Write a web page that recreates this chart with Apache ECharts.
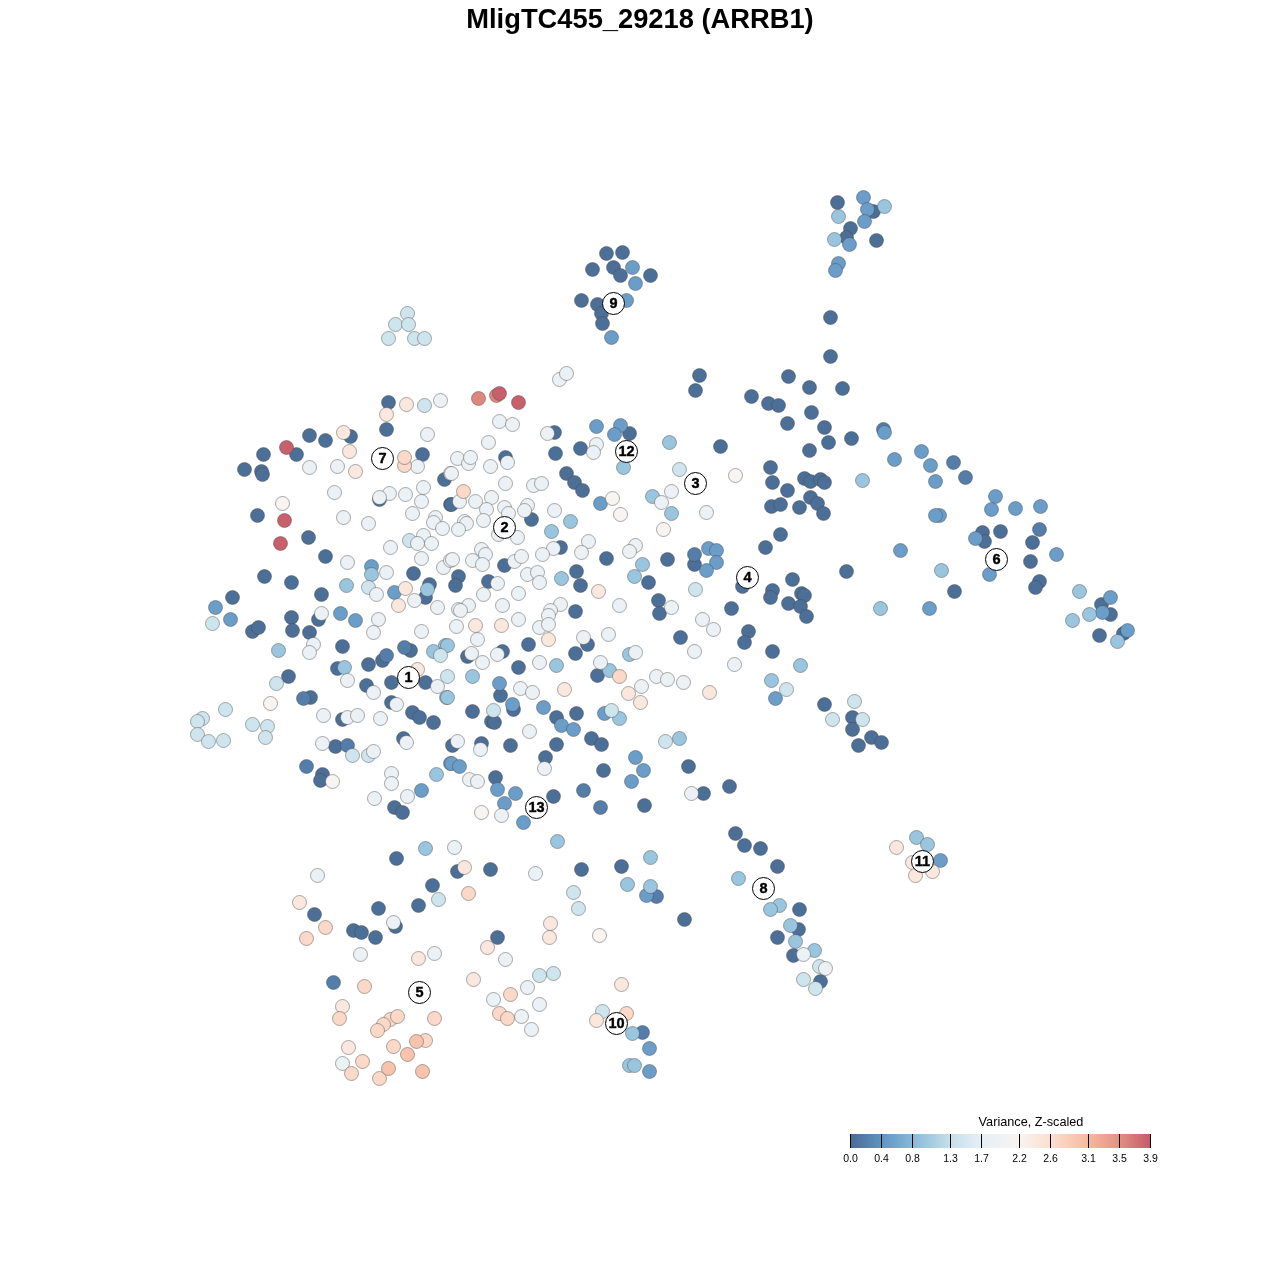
<!DOCTYPE html>
<html><head><meta charset="utf-8">
<style>html,body{margin:0;padding:0;background:#fff}#c{width:1280px;height:1280px}</style>
<script src="https://cdn.jsdelivr.net/npm/echarts@6/dist/echarts.min.js"></script>
</head><body><div id="c"></div>
<script>
const titleText = 'MligTC455_29218 (ARRB1)';
const legendTitle = 'Variance, Z-scaled';
const tickValues = ['0.0','0.4','0.8','1.3','1.7','2.2','2.6','3.1','3.5','3.9'];
const paletteStops = ['#4a6a93','#5f93c2','#86b9d8','#c3dfea','#e6eff6','#f8f4f2','#fcdfd0','#f6b9a0','#e39283','#c45a69'];

// point groups: [x, y] on the embedding scale, grouped by variance value
const darkPts = [[837,202],[873,211],[850,228],[846,237],[876,240],
[606,253],[622,252],[592,269],[613,267],[620,275],[650,275],[581,300],[597,304],[601,313],[602,323],
[830,317],[830,356],[699,375],[695,390],[788,376],[809,387],[842,388],[751,396],[768,403],[778,405],[811,412],[787,423],[824,427],[828,442],[851,438],[809,450],[720,446],[770,467],[772,482],[787,490],[804,478],[810,481],[820,479],[824,482],[810,497],[771,506],[780,504],[799,507],[817,503],[823,513],[780,534],[765,547],[846,571],[792,579],[772,590],[770,597],[788,603],[801,593],[804,595],[800,606],[806,616],[731,608],[748,631],[744,642],[772,651],[824,704],[852,717],[852,729],[871,737],[881,742],[858,745],[742,586],
[982,532],[1000,531],[984,541],[1032,542],[1030,561],[1039,581],[1035,587],[954,591],[1101,604],[1110,614],[1099,635],[1123,633],
[388,402],[386,429],[309,435],[325,440],[350,436],[296,454],[263,454],[244,469],[261,471],[262,474],[422,454],[257,515],[308,537],[325,556],[264,576],[291,582],[321,594],[232,597],[413,573],[429,584],[425,597],[444,479],[450,504],[379,499],
[554,432],[629,433],[555,453],[580,448],[505,457],[566,473],[574,482],[582,490],[451,504],[531,519],[560,547],[606,558],[667,559],[694,564],[504,565],[458,576],[455,585],[488,581],[576,571],[580,585],[648,582],[658,600],[659,613],[575,611],
[291,617],[292,630],[309,632],[252,631],[258,627],[318,619],[342,646],[368,664],[382,660],[410,650],[337,668],[288,676],[366,685],[391,682],[425,682],[391,702],[412,712],[419,717],[433,722],[310,697],[342,719],[403,738],[335,746],[322,774],[320,780],[394,807],[402,812],
[680,637],[528,644],[502,651],[467,656],[587,644],[575,653],[518,667],[597,675],[500,695],[472,711],[513,709],[491,721],[494,722],[556,717],[576,713],[591,738],[601,744],[510,745],[556,744],[452,745],[481,743],[545,757],[603,770],[688,766],[495,777],[553,796],[644,805],[703,793],[729,786],
[396,858],[432,885],[490,869],[457,871],[378,908],[418,905],[314,914],[395,926],[353,930],[361,932],[375,937],[497,937],[581,869],[621,866],[684,919],
[735,833],[744,845],[760,848],[777,866],[799,909],[798,929],[777,937],[793,955],[820,981]];
const slatePts = [[953,462],[965,477],[1039,529],[386,655],[404,647],[303,698],[306,766],[347,745],[583,790],[600,807],[333,982],[642,1032],[656,896],[694,554],[883,429]];
const bluePts = [[863,197],[867,209],[864,221],[849,244],[838,263],[835,270],[632,267],[635,283],[626,300],[611,337],
[884,432],[894,459],[921,451],[930,465],[935,481],[995,496],[991,509],[1015,508],[1040,506],[939,515],[935,515],[975,538],[1056,554],[989,574],[900,550],[929,608],[1110,597],[1102,612],[1127,630],
[708,548],[716,550],[716,562],[706,570],[371,566],[394,592],[215,607],[340,613],[230,619],[355,620],[421,790],[450,763],
[596,426],[620,425],[614,434],[600,503],[499,683],[543,707],[512,704],[561,725],[573,729],[604,713],[451,763],[459,766],[635,757],[643,770],[631,781],[497,789],[515,793],[504,803],[523,822],[649,1048],[649,1071],[646,895],[940,860],[775,698]];
const skyPts = [[884,206],[838,216],[834,239],[862,480],[1079,591],[1089,614],[1072,620],[1117,641],[941,570],[880,608],
[346,585],[371,574],[427,589],[278,650],[445,645],[433,651],[344,667],[436,774],[446,697],
[669,442],[623,467],[652,496],[671,513],[570,521],[551,531],[642,564],[634,576],[561,578],[472,676],[447,645],[556,665],[447,697],[609,670],[629,654],[619,718],[679,738],
[425,848],[557,841],[650,857],[627,884],[650,886],[632,1033],[629,1065],[634,1065],[738,878],[779,905],[770,909],[790,925],[795,941],[814,950],[771,680],[800,665],[916,837],[927,844]];
const palePts = [[407,313],[395,324],[408,324],[388,338],[414,338],[424,338],[424,405],[368,587],[409,540],
[212,623],[202,718],[197,721],[197,734],[208,741],[223,740],[225,709],[252,724],[267,726],[265,737],[276,683],
[679,469],[695,589],[447,676],[352,755],[368,755],[493,710],[611,710],[665,741],[438,899],[573,892],[578,908],[539,975],[553,973],[602,1011],[819,966],[803,979],[815,988],[786,689],[854,701],[832,719],[862,719],[440,655]];
const whitePts = [[440,400],[427,434],[309,467],[337,466],[417,466],[334,492],[343,517],[368,523],[389,493],[405,494],[379,497],[423,487],[421,501],[412,513],[435,517],[433,522],[442,528],[390,547],[423,535],[417,543],[431,543],[421,558],[443,567],[347,562],[386,572],[376,594],[414,600],[437,607],[450,473],[450,560],[321,613],
[559,379],[566,373],[499,421],[512,424],[547,433],[488,442],[457,458],[468,463],[470,457],[490,466],[507,462],[596,444],[593,452],[451,473],[505,483],[533,485],[541,483],[491,497],[475,501],[459,501],[486,509],[504,507],[508,513],[527,505],[524,510],[554,510],[483,520],[464,521],[466,523],[458,529],[498,534],[517,537],[661,502],[671,491],[588,541],[581,552],[553,548],[542,554],[635,545],[629,551],[481,549],[485,554],[472,560],[482,564],[452,559],[514,561],[521,556],[527,574],[537,572],[539,582],[497,583],[518,593],[483,594],[468,605],[458,609],[502,605],[560,604],[619,605],[671,607],[550,610],
[378,619],[373,632],[421,631],[313,644],[309,652],[347,680],[373,692],[437,686],[396,704],[323,715],[347,717],[357,715],[380,718],[406,742],[322,743],[373,751],[391,773],[391,783],[374,798],[407,796],
[460,610],[518,619],[456,626],[548,615],[539,627],[548,624],[583,637],[608,634],[477,639],[471,653],[482,662],[497,654],[539,662],[694,651],[635,652],[600,662],[520,688],[532,692],[656,676],[667,679],[683,682],[641,686],[529,731],[457,741],[480,749],[544,768],[469,779],[477,781],[501,815],[691,793],
[454,847],[317,875],[535,873],[393,922],[360,954],[434,953],[505,959],[527,987],[493,999],[539,1004],[521,1016],[531,1029],[342,1063],[803,954],[825,968],[702,619],[713,629],[734,664],[706,512]];
const snowPts = [[282,503],[270,703],[612,498],[620,514],[663,529],[481,812],[332,781],[735,475],[599,935]];
const creamPts = [[343,432],[349,451],[355,471],[386,414],[406,404],[405,588],[398,605],[417,669],[598,591],[475,625],[501,625],[548,639],[628,693],[640,702],[464,867],[299,902],[550,923],[549,937],[487,947],[418,958],[473,979],[342,1006],[348,1047],[621,984],[596,1020],[709,692],[896,847],[912,862],[915,875],[932,871],[564,689]];
const peachPts = [[404,465],[404,457],[463,491],[619,676],[468,893],[325,927],[306,938],[364,986],[510,994],[499,1013],[507,1018],[339,1018],[390,1019],[397,1016],[383,1024],[377,1030],[434,1018],[393,1046],[425,1040],[362,1061],[351,1073],[379,1078],[626,1013]];
const salmonPts = [[416,1041],[407,1054],[388,1068],[422,1071]];
const redPts = [[286,447],[284,520],[280,543],[499,393],[518,402]];
const rosePts = [[478,398],[496,395]];

const groupValues = [[darkPts,0.05],[slatePts,0.2],[bluePts,0.55],[skyPts,1.0],[palePts,1.45],[whitePts,1.88],[snowPts,2.15],[creamPts,2.42],[peachPts,2.68],[salmonPts,2.92],[rosePts,3.55],[redPts,3.85]];

// cluster labels
const clusterNames = ['1','2','3','4','5','6','7','8','9','10','11','12','13'];
const clusterX = [408,504,695,747,419,996,382,763,613,616,922,626,536];
const clusterY = [677,527,483,577,992,559,458,888,303,1023,861,451,807];

const legendX = 850, legendW = 300, legendY = 1134, legendH = 14;
const tickX = [0,31,62,100,131,169,200,238,269,300];

const pts = [];
groupValues.forEach(([g,v]) => g.forEach(p => pts.push([p[0],p[1],v])));

const graphics = [
 {type:'rect',shape:{x:legendX,y:legendY,width:legendW,height:legendH},
  style:{fill:new echarts.graphic.LinearGradient(0,0,1,0,paletteStops.map((c,i)=>({offset:tickX[i]/legendW,color:c})))}},
 {type:'text',style:{x:1031,y:1122,text:legendTitle,fill:'#000',font:'12.7px "Liberation Sans"',align:'center',verticalAlign:'middle'}}
];
tickValues.forEach((t,i)=>{
  graphics.push({type:'line',shape:{x1:legendX+tickX[i]+0.5,y1:legendY,x2:legendX+tickX[i]+0.5,y2:legendY+legendH},style:{stroke:'#000',lineWidth:1}});
  graphics.push({type:'text',style:{x:legendX+tickX[i]+0.5,y:1159,text:t,fill:'#000',font:'10.5px "Liberation Sans"',align:'center',verticalAlign:'middle'}});
});

const chart = echarts.init(document.getElementById('c'),null,{renderer:'canvas'});
chart.setOption({
 animation:false,
 backgroundColor:'#fff',
 title:{text:titleText,left:'center',top:2,textStyle:{fontFamily:'Liberation Sans',fontWeight:'bold',fontSize:27.3,color:'#000'}},
 grid:{left:0,right:0,top:0,bottom:0},
 xAxis:{type:'value',min:-0.5,max:1279.5,show:false},
 yAxis:{type:'value',min:-0.5,max:1279.5,inverse:true,show:false},
 visualMap:{show:false,type:'continuous',min:0,max:3.9,dimension:2,seriesIndex:0,inRange:{color:paletteStops}},
 graphic:graphics,
 series:[
  {type:'scatter',data:pts,symbolSize:14,itemStyle:{borderColor:'rgba(70,70,70,0.45)',borderWidth:1,opacity:1},z:2,silent:true},
  {type:'scatter',data:clusterNames.map((n,i)=>[clusterX[i],clusterY[i],n]),symbolSize:22,z:3,silent:true,
   itemStyle:{color:'#fff',borderColor:'#000',borderWidth:1,opacity:1},
   label:{show:true,position:'inside',formatter:p=>p.value[2],color:'#000',fontFamily:'Liberation Sans',fontWeight:'bold',fontSize:14.5,textBorderColor:'#000',textBorderWidth:0.4}}
 ]
});
</script></body></html>
